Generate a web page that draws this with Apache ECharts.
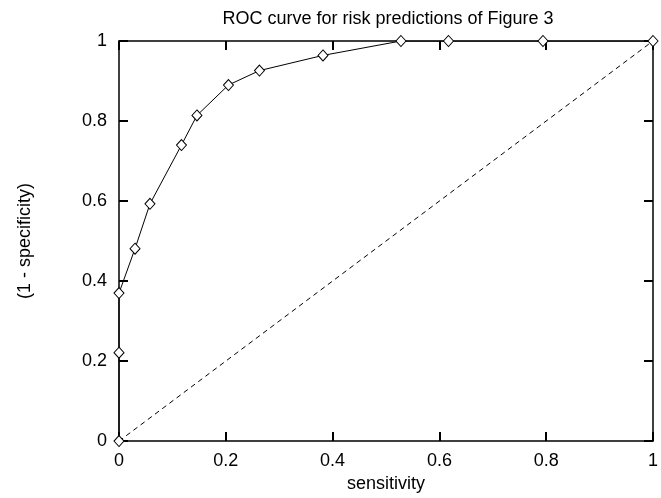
<!DOCTYPE html>
<html>
<head>
<meta charset="utf-8">
<script src="https://cdn.jsdelivr.net/npm/echarts@6/dist/echarts.min.js"></script>
<style>
html,body{margin:0;padding:0;background:#fff;}
#c{width:661px;height:498px;}
</style>
</head>
<body>
<div id="c"></div>
<script>
var titleText = 'ROC curve for risk predictions of Figure 3';
var xName = 'sensitivity';
var yName = '(1 - specificity)';
var rocX = [0, 0, 0, 0.030, 0.058, 0.117, 0.146, 0.205, 0.263, 0.382, 0.528, 0.617, 0.794, 1.0];
var rocY = [0, 0.221, 0.370, 0.481, 0.593, 0.740, 0.814, 0.890, 0.926, 0.964, 1.0, 1.0, 1.0, 1.0];
var diagX = [0, 1];
var diagY = [0, 1];
var tickLabels = ['0', '0.2', '0.4', '0.6', '0.8', '1'];

function pairs(xs, ys) { return xs.map(function (x, i) { return [x, ys[i]]; }); }
function fmt(v) { return tickLabels[Math.round(v / 0.2)]; }

var font = 'Liberation Sans, Arial, sans-serif';
var fs = 18;
function ax(extra) {
  var base = {
    type: 'value', min: 0, max: 1, interval: 0.2,
    axisLine: { show: true, onZero: false, lineStyle: { color: '#000', width: 1.5 } },
    axisTick: { show: true, inside: true, length: 9, lineStyle: { color: '#000', width: 2 } },
    splitLine: { show: false }
  };
  return Object.assign(base, extra);
}

var chart = echarts.init(document.getElementById('c'));
chart.setOption({
  animation: false,
  backgroundColor: '#fff',
  title: {
    text: titleText, left: 388, top: 10, textAlign: 'center', padding: 0,
    textStyle: { fontFamily: font, fontSize: fs, fontWeight: 'normal', color: '#000' }
  },
  grid: { left: 119, top: 41, right: 3, bottom: 54 },
  xAxis: [
    ax({ position: 'bottom', name: xName, nameLocation: 'middle', nameGap: 28,
      nameTextStyle: { fontFamily: font, fontSize: fs, color: '#000', verticalAlign: 'top' },
      axisLabel: { show: true, margin: 11, fontFamily: font, fontSize: fs, color: '#000', formatter: fmt } }),
    ax({ position: 'top', axisLabel: { show: false } })
  ],
  yAxis: [
    ax({ position: 'left', name: yName, nameLocation: 'middle', nameGap: 85, nameRotate: 90,
      nameTextStyle: { fontFamily: font, fontSize: fs, color: '#000' },
      axisLabel: { show: true, margin: 12, fontFamily: font, fontSize: fs, color: '#000', formatter: fmt } }),
    ax({ position: 'right', axisLabel: { show: false } })
  ],
  series: [
    {
      type: 'line', data: pairs(diagX, diagY), symbol: 'none', silent: true,
      lineStyle: { color: '#000', width: 1, type: [5, 4] }
    },
    {
      type: 'line', data: pairs(rocX, rocY), symbol: 'diamond', symbolSize: [10, 11],
      showAllSymbol: true, silent: true,
      lineStyle: { color: '#000', width: 1 },
      itemStyle: { color: '#fff', borderColor: '#000', borderWidth: 1 }
    }
  ]
});
</script>
</body>
</html>
